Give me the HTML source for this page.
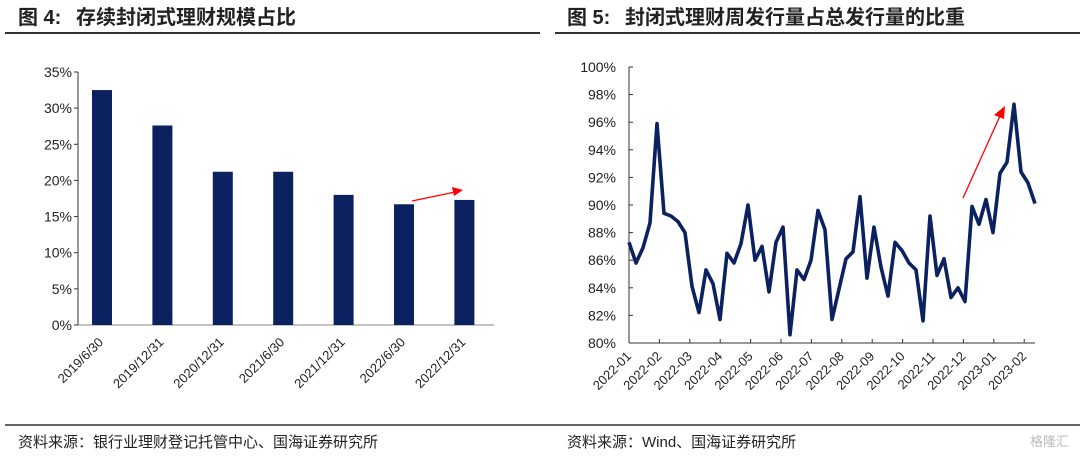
<!DOCTYPE html>
<html><head><meta charset="utf-8"><style>
body{margin:0;background:#fff;width:1080px;height:456px;overflow:hidden;font-family:"Liberation Sans","Noto Sans CJK SC",sans-serif;}
svg text{font-family:"Liberation Sans","Noto Sans CJK SC",sans-serif;}
</style></head><body>
<svg width="1080" height="456">
<text x="18" y="24" font-size="20" font-weight="bold" fill="#222">图 4:<tspan x="76">存续封闭式理财规模占比</tspan></text>
<line x1="5" y1="33" x2="540" y2="33" stroke="#333" stroke-width="2"/>
<text x="567" y="24" font-size="20" font-weight="bold" fill="#222">图 5:<tspan x="625">封闭式理财周发行量占总发行量的比重</tspan></text>
<line x1="555" y1="33" x2="1080" y2="33" stroke="#333" stroke-width="2"/>
<line x1="5" y1="425" x2="1080" y2="425" stroke="#333" stroke-width="1.5"/>
<text x="18" y="447" font-size="15" fill="#222">资料来源：银行业理财登记托管中心、国海证券研究所</text>
<text x="567" y="447" font-size="15" fill="#222">资料来源：Wind、国海证券研究所</text>
<text x="1030" y="446" font-size="13" fill="#bbb">格隆汇</text>
<g id="left"></g>
<g id="right"></g>
</svg>
<script>
const barCats=["2019/6/30","2019/12/31","2020/12/31","2021/6/30","2021/12/31","2022/6/30","2022/12/31"];
const barVals=[32.5,27.6,21.2,21.2,18.0,16.7,17.3];
const barTicks=[0,5,10,15,20,25,30,35];
const lineVals=[87.3,85.8,86.9,88.7,95.9,89.4,89.2,88.8,88.0,84.1,82.2,85.3,84.3,81.7,86.5,85.8,87.2,90.0,86.0,87.0,83.7,87.3,88.4,80.6,85.3,84.6,86.0,89.6,88.2,81.7,83.9,86.1,86.6,90.6,84.7,88.4,85.5,83.4,87.3,86.7,85.8,85.3,81.6,89.2,84.9,86.1,83.3,84.0,83.0,89.9,88.6,90.4,88.0,92.3,93.1,97.3,92.4,91.6,90.1];
const lineTicks=[80,82,84,86,88,90,92,94,96,98,100];
const lineCats=["2022-01","2022-02","2022-03","2022-04","2022-05","2022-06","2022-07","2022-08","2022-09","2022-10","2022-11","2022-12","2023-01","2023-02"];
const NS="http://www.w3.org/2000/svg";
function mk(p,t,a,txt){const e=document.createElementNS(NS,t);for(const k in a)e.setAttribute(k,a[k]);if(txt!==undefined)e.textContent=txt;p.appendChild(e);return e;}
const navy="#0b2160";
// left chart
const L=document.getElementById('left');
const ly=v=>325-v*(325-72)/35;
const lx=i=>102+i*60.4;
barTicks.forEach(t=>{const e=mk(L,'text',{x:72,y:ly(t)+5,'font-size':14,'text-anchor':'end',fill:'#222'},t+'%');


const tk=mk(L,'line',{x1:74,x2:78,y1:ly(t),y2:ly(t),stroke:'#333'});

});
const la=mk(L,'line',{x1:78,x2:78,y1:72,y2:325,stroke:'#333'});


const lb=mk(L,'line',{x1:78,x2:494,y1:325,y2:325,stroke:'#888'});


barVals.forEach((v,i)=>{const r=mk(L,'rect',{x:lx(i)-10,y:ly(v),width:20,height:325-ly(v),fill:navy});

});
barCats.forEach((c,i)=>{const x=lx(i)+2,y=343;const e=mk(L,'text',{x:x,y:y,'font-size':13,'text-anchor':'end',fill:'#222',transform:`rotate(-45 ${x} ${y})`},c);

});
const ar1=mk(L,'line',{x1:412,y1:201,x2:455,y2:192,stroke:'#f00','stroke-width':1.3});


const ah1=mk(L,'polygon',{points:'463,190 452,187 454,196',fill:'#f00'});


// right chart
const R=document.getElementById('right');
const ry=v=>67+(100-v)*(343-67)/20;
const x0=629,x1=1035;
const rx=i=>x0+i*(x1-x0)/(lineVals.length-1);
lineTicks.forEach(t=>{const e=mk(R,'text',{x:616,y:ry(t)+5,'font-size':14,'text-anchor':'end',fill:'#222'},t+'%');


const tk=mk(R,'line',{x1:629,x2:633,y1:ry(t),y2:ry(t),stroke:'#333'});

});
const ra=mk(R,'line',{x1:629,x2:629,y1:67,y2:343,stroke:'#333'});


const rb=mk(R,'line',{x1:629,x2:1035,y1:343,y2:343,stroke:'#333'});


for(let k=1;k<lineCats.length;k++){const x=x0+k*30.4;const tk=mk(R,'line',{x1:x,x2:x,y1:339,y2:343,stroke:'#333'});

}
lineCats.forEach((c,i)=>{const x=632+i*30.4,y=357;const e=mk(R,'text',{x:x,y:y,'font-size':13,'text-anchor':'end',fill:'#222',transform:`rotate(-45 ${x} ${y})`},c);

});
const pl=mk(R,'polyline',{points:lineVals.map((v,i)=>rx(i).toFixed(1)+','+ry(v).toFixed(1)).join(' '),fill:'none',stroke:navy,'stroke-width':3.6,'stroke-linejoin':'round'});


const ar2=mk(R,'line',{x1:963,y1:198,x2:1000,y2:116,stroke:'#f00','stroke-width':1.3});


const ah2=mk(R,'polygon',{points:'1005,106 994,115 1004,119',fill:'#f00'});


</script>
</body></html>
